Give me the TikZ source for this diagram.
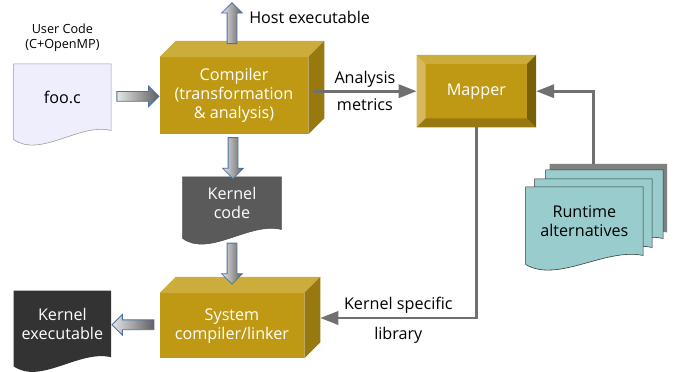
\documentclass[tikz,border=0pt]{standalone}
\usepackage{fontspec}
\setmainfont{Open Sans}
\usepackage{tikz}
\usetikzlibrary{positioning}
\usetikzlibrary{calc}
\usetikzlibrary{shapes.arrows}
\usetikzlibrary{arrows.meta}
\usetikzlibrary{backgrounds}

\definecolor{goldfront}{RGB}{191,153,19}
\definecolor{goldtop}{RGB}{204,172,58}
\definecolor{goldside}{RGB}{152,121,15}
\definecolor{goldlight}{RGB}{214,185,94}
\definecolor{golddark}{RGB}{120,96,10}
\definecolor{docblue}{RGB}{238,238,252}
\definecolor{kcodegray}{RGB}{90,90,90}
\definecolor{kexecgray}{RGB}{51,51,51}
\definecolor{rtteal}{RGB}{153,204,204}
\definecolor{linegray}{RGB}{112,112,112}
\definecolor{arrowblue}{RGB}{74,114,168}

\newcommand{\bigfont}{\fontsize{11.5}{13.5}\selectfont}
\newcommand{\smallfont}{\fontsize{9}{11}\selectfont}

\tikzstyle{gold3d} = [rectangle, minimum width=3.7cm, minimum height=1.925cm, text centered, align=center, text=white, font=\bigfont]
\tikzstyle{bevelbox} = [rectangle, minimum width=2.975cm, minimum height=1.8cm, text centered, text=white, font=\bigfont]
\tikzstyle{docbody} = [rectangle, minimum width=2.425cm, minimum height=1.65cm, text centered, align=center, font=\bigfont]
\tikzstyle{blockarrow} = [single arrow, draw=arrowblue, line width=0.6pt, inner sep=0.1125cm, single arrow head extend=0.1375cm, minimum height=1.05cm, left color=gray!20, right color=gray!75!black]
\tikzstyle{feed} = [draw=linegray, line width=2.1pt, -{Triangle[length=0.45cm,width=0.33cm]}]
\tikzstyle{lbl} = [font=\bigfont, inner sep=2pt]

% gold box with top and side faces
\newcommand{\boxfaces}[1]{%
  \fill[goldtop] (#1.north west) -- ++(0.4,0.4) -- ($(#1.north east)+(0.4,0.4)$) -- (#1.north east) -- cycle;
  \fill[goldside] (#1.north east) -- ++(0.4,0.4) -- ($(#1.south east)+(0.4,0.4)$) -- (#1.south east) -- cycle;
  \fill[goldfront] (#1.north west) rectangle (#1.south east);}

% bevelled button
\newcommand{\bevel}[1]{%
  \fill[goldfront] (#1.north west) rectangle (#1.south east);
  \fill[goldtop] (#1.north west) -- (#1.north east) -- ($(#1.north east)+(-0.225,-0.225)$) -- ($(#1.north west)+(0.225,-0.225)$) -- cycle;
  \fill[goldlight] (#1.north west) -- (#1.south west) -- ($(#1.south west)+(0.225,0.225)$) -- ($(#1.north west)+(0.225,-0.225)$) -- cycle;
  \fill[golddark] (#1.north east) -- (#1.south east) -- ($(#1.south east)+(-0.225,0.225)$) -- ($(#1.north east)+(-0.225,-0.225)$) -- cycle;
  \fill[goldside] (#1.south west) -- (#1.south east) -- ($(#1.south east)+(-0.225,0.225)$) -- ($(#1.south west)+(0.225,0.225)$) -- cycle;}

% document with wavy bottom
\newcommand{\docshape}[2]{%
  \path[#2] (#1.north west) -- (#1.north east) -- (#1.south east)
    .. controls ($(#1.south west)!0.68!(#1.south east)+(0,0.2)$) and ($(#1.south west)!0.27!(#1.south east)+(0,-0.7)$) .. ($(#1.south west)+(0,-0.225)$) -- cycle;}

\begin{document}
\begin{tikzpicture}[node distance=2cm]
        \useasboundingbox (0,0) rectangle (17,-9.3);
        \node (compiler) [gold3d] at (5.85,-2.39) {Compiler\\(transformation\\\& analysis)};
        \node (fooc) [docbody, left of=compiler, xshift=-2.29cm, yshift=-0.04cm] {foo.c};
        \node (usercode) [lbl, font=\smallfont, align=center, above of=fooc, yshift=-0.51cm] {User Code\\(C+OpenMP)};
        \node (kcode) [docbody, minimum width=2.45cm, minimum height=1.3cm, text=white, below of=compiler, xshift=-0.05cm, yshift=-0.69cm] {Kernel\\code};
        \node (syscomp) [gold3d, minimum width=3.6cm, minimum height=1.625cm, below of=kcode, yshift=-1.06cm] {System\\compiler/linker};
        \node (kexec) [docbody, text=white, left of=syscomp, xshift=-2.24cm, yshift=0.04cm] {Kernel\\executable};
        \node (mapper) [bevelbox, right of=compiler, xshift=4.06cm, yshift=0.11cm] {Mapper};
        \node (runtime) [docbody, minimum width=2.925cm, minimum height=1.7cm, below of=mapper, xshift=2.7cm, yshift=-1.25cm] {Runtime\\alternatives};
        \node (rt2) [docbody, minimum width=2.925cm, minimum height=1.7cm] at ([shift={(0.225,0.2)}]runtime) {};
        \node (rt3) [docbody, minimum width=2.925cm, minimum height=1.7cm] at ([shift={(0.5,0.425)}]runtime) {};
        \node (rtshadow) [docbody, minimum width=2.925cm, minimum height=1.7cm] at ([shift={(0.6,0.575)}]runtime) {};

        \node (fooarr) [blockarrow] at ($(fooc.east)!0.5!(compiler.west)$) {};
        \node (hostarr) [blockarrow, minimum height=1.025cm, shape border rotate=90, above of=compiler, xshift=-0.05cm, yshift=-0.25cm] {};
        \node (hostlbl) [lbl, right of=hostarr, xshift=-0.06cm, yshift=0.21cm] {Host executable};
        \node (kcodearr) [blockarrow, minimum height=1.025cm, shape border rotate=270] at ($(compiler.south)!0.5!(kcode.north)$) {};
        \node (sysarr) [blockarrow, minimum height=1.025cm, shape border rotate=270] at ($(kcode.south)!0.5!(syscomp.north)$) {};
        \node (kexecarr) [blockarrow, shape border rotate=180] at ($(syscomp.west)!0.5!(kexec.east)$) {};

        \begin{scope}[on background layer]
            \docshape{fooc}{fill=docblue, draw=gray!80}
            \docshape{kcode}{fill=kcodegray, draw=gray!60!black}
            \docshape{kexec}{fill=kexecgray}
            \docshape{rtshadow}{fill=gray}
            \docshape{rt3}{fill=rtteal, draw=black!80}
            \docshape{rt2}{fill=rtteal, draw=black!80}
            \docshape{runtime}{fill=rtteal, draw=black!80}
            \boxfaces{compiler}
            \boxfaces{syscomp}
            \bevel{mapper}
        \end{scope}

        \draw [feed] ($(compiler.east |- mapper.west)+(0.125,0)$) -- node[lbl, above] (anlbl) {Analysis} node[lbl, below, yshift=-0.08cm] (metlbl) {metrics} (mapper.west);
        \draw [feed] (rt2.north |- rtshadow.north) |- (mapper.east);
        \draw [feed] (mapper.south) |- node[lbl, above, pos=0.75] (kslbl) {Kernel specific} node[lbl, below, pos=0.75, yshift=-0.12cm] (liblbl) {library} ([xshift=0.4cm, yshift=0.19cm]syscomp.east);
\end{tikzpicture}
\end{document}
